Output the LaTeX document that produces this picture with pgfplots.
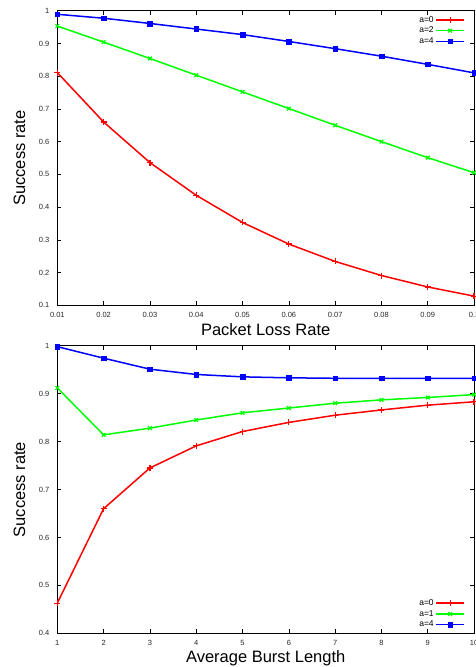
\documentclass[border=0pt]{standalone}
\usepackage{fontspec}
\setmainfont{Liberation Sans}
\usepackage{pgfplots}
\pgfplotsset{compat=1.18}
\definecolor{gred}{RGB}{255,0,0}
\definecolor{ggreen}{RGB}{0,255,0}
\definecolor{gblue}{RGB}{0,0,255}
\pgfplotsset{
  gp/.style={
    scale only axis,
    width=416.8pt,
    /pgf/number format/assume math mode=true,
    axis line style={line width=0.8pt},
    tick style={line width=0.6pt, black},
    tick align=inside,
    major tick length=4pt,
    xtick pos=both, ytick pos=both,
    ticklabel style={font=\fontsize{7.5}{8}\selectfont, text=black!85},
    xticklabel style={yshift=-3.3pt},
    yticklabel style={xshift=-4.5pt},
    label style={font=\fontsize{16.5}{18}\selectfont},
    ylabel={Success rate},
    y label style={at={(axis description cs:-0.0907,0.5)}, anchor=center, rotate=0},
    legend plot pos=right,
    legend cell align=right,
    legend image code/.code={\draw[mark repeat=2,mark phase=2] plot coordinates {(0pt,0pt) (14pt,0pt) (28pt,0pt)};},
    legend style={draw=none, fill=none, font=\fontsize{8.5}{9}\selectfont, inner sep=0pt,
      nodes={inner sep=1.7pt}},
    every axis plot/.append style={line width=1.5pt},
    scaled ticks=false,
  },
  pr/.style={color=gred, mark=+, mark size=3pt, mark options={line width=1.2pt}},
  pg/.style={color=ggreen, mark=x, mark size=2.6pt, mark options={line width=1.2pt}},
  pb/.style={color=gblue, mark=square*, mark size=2.3pt, mark options={line width=0.5pt}},
}
\begin{document}
\begin{tikzpicture}
\path[use as bounding box] (0pt,0pt) rectangle (475pt,667pt);
% top chart
\begin{axis}[gp,
  at={(57.3pt,361.7pt)}, anchor=south west,
  height=294.6pt,
  xmin=0.01, xmax=0.1, ymin=0.1, ymax=1,
  xtick={0.01,0.02,0.03,0.04,0.05,0.06,0.07,0.08,0.09,0.1},
  xticklabels={0.01,0.02,0.03,0.04,0.05,0.06,0.07,0.08,0.09,0.1},
  ytick={0.1,0.2,0.3,0.4,0.5,0.6,0.7,0.8,0.9,1},
  yticklabels={0.1,0.2,0.3,0.4,0.5,0.6,0.7,0.8,0.9,1},
  xlabel={Packet Loss Rate},
  x label style={at={(axis description cs:0.5,-0.101)}, anchor=base},
  legend style={at={(rel axis cs:1,1)}, anchor=north east, xshift=-9pt, yshift=-3.5pt},
]
\addplot[pr] coordinates {(0.01,0.811) (0.02,0.660) (0.03,0.536) (0.04,0.436) (0.05,0.353) (0.06,0.287) (0.07,0.234) (0.08,0.191) (0.09,0.156) (0.1,0.128)};
\addlegendentry{a=0}
\addplot[pg] coordinates {(0.01,0.953) (0.02,0.904) (0.03,0.854) (0.04,0.803) (0.05,0.752) (0.06,0.701) (0.07,0.650) (0.08,0.600) (0.09,0.551) (0.1,0.505)};
\addlegendentry{a=2}
\addplot[pb] coordinates {(0.01,0.989) (0.02,0.977) (0.03,0.961) (0.04,0.944) (0.05,0.927) (0.06,0.906) (0.07,0.884) (0.08,0.861) (0.09,0.836) (0.1,0.810)};
\addlegendentry{a=4}
\end{axis}
% bottom chart
\begin{axis}[gp,
  at={(57.3pt,33.7pt)}, anchor=south west,
  height=287.6pt,
  xmin=1, xmax=10, ymin=0.4, ymax=1,
  xtick={1,2,3,4,5,6,7,8,9,10},
  xticklabels={1,2,3,4,5,6,7,8,9,10},
  ytick={0.4,0.5,0.6,0.7,0.8,0.9,1},
  yticklabels={0.4,0.5,0.6,0.7,0.8,0.9,1},
  xlabel={Average Burst Length},
  x label style={at={(axis description cs:0.5,-0.0998)}, anchor=base},
  legend style={at={(rel axis cs:1,0)}, anchor=south east, xshift=-9pt, yshift=3pt},
]
\addplot[pr] coordinates {(1,0.463) (2,0.660) (3,0.745) (4,0.791) (5,0.821) (6,0.840) (7,0.855) (8,0.866) (9,0.876) (10,0.883)};
\addlegendentry{a=0}
\addplot[pg] coordinates {(1,0.912) (2,0.814) (3,0.828) (4,0.845) (5,0.860) (6,0.870) (7,0.880) (8,0.887) (9,0.892) (10,0.898)};
\addlegendentry{a=1}
\addplot[pb] coordinates {(1,0.998) (2,0.974) (3,0.951) (4,0.940) (5,0.935) (6,0.933) (7,0.932) (8,0.932) (9,0.932) (10,0.932)};
\addlegendentry{a=4}
\end{axis}
\end{tikzpicture}
\end{document}
